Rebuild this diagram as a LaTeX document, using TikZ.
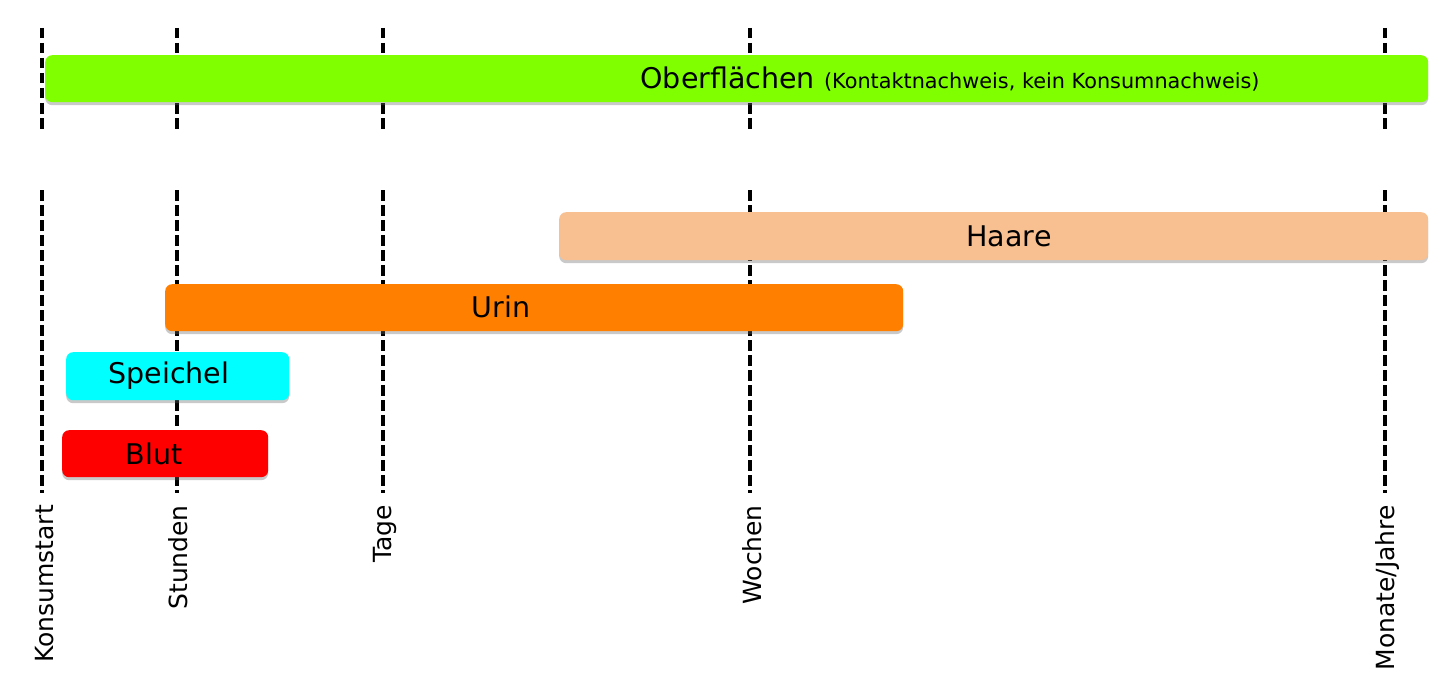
\documentclass[tikz,border=0pt]{standalone}
\usepackage{fontspec}
\setmainfont{DejaVu Sans}
\usetikzlibrary{shadows}
\definecolor{cGreen}{RGB}{128,255,0}
\definecolor{cHaare}{RGB}{248,192,144}
\definecolor{cUrin}{RGB}{255,128,0}
\definecolor{cCyan}{RGB}{0,255,255}
\definecolor{cRed}{RGB}{255,0,0}
\begin{document}
\begin{tikzpicture}[x=1pt,y=-1pt,
  timeline/.style={line width=4.8pt, dash pattern=on 10.5pt off 4.5pt},
  bar/.style={draw=none, rounded corners=7pt, anchor=north west, inner sep=0pt,
    drop shadow={shadow xshift=0pt, shadow yshift=-3pt, opacity=0.35, fill=black!60}},
  barlabel/.style={inner sep=0pt, font=\fontsize{28.5}{34}\selectfont},
  axislabel/.style={rotate=90, anchor=east, inner sep=0pt, font=\fontsize{25}{30}\selectfont}]
\useasboundingbox[fill=white] (0,0) rectangle (1436,693);
% timeline axes
\foreach \n/\x in {ks/42, st/177, ta/383, wo/750, mj/1385}{
  \coordinate (\n TopA) at (\x,28);
  \coordinate (\n TopB) at (\x,130);
  \coordinate (\n LowA) at (\x,190);
  \coordinate (\n LowB) at (\x,493);
  \draw[timeline] (\n TopA) -- (\n TopB);
  \draw[timeline] (\n LowA) -- (\n LowB);
}
% bars
\node[bar, fill=cGreen, minimum width=1383pt, minimum height=47pt] (oberf) at (45,55) {};
\node[barlabel] (oberfText) at (950,79) {Oberflächen {\fontsize{20.8}{25}\selectfont (Kontaktnachweis, kein Konsumnachweis)}};
\node[bar, fill=cHaare, minimum width=869pt, minimum height=48pt] (haare) at (559,212) {};
\node[barlabel] (haareText) at (1009,236) {Haare};
\node[bar, fill=cUrin, minimum width=738pt, minimum height=47pt] (urin) at (165,284) {};
\node[barlabel] (urinText) at (501,307) {Urin};
\node[bar, fill=cCyan, minimum width=223pt, minimum height=48pt] (speichel) at (66,352) {};
\node[barlabel] (speichelText) at (169,376) {Speichel};
\node[bar, fill=cRed, minimum width=206pt, minimum height=47pt] (blut) at (62,430) {};
\node[barlabel] (blutText) at (154,454) {Blut};
% axis labels
\node[axislabel] (lks) at (45,505) {Konsumstart};
\node[axislabel] (lst) at (178,505) {Stunden};
\node[axislabel] (lta) at (385,505) {Tage};
\node[axislabel] (lwo) at (752,505) {Wochen};
\node[axislabel] (lmj) at (1387,505) {Monate/Jahre};
\end{tikzpicture}
\end{document}
